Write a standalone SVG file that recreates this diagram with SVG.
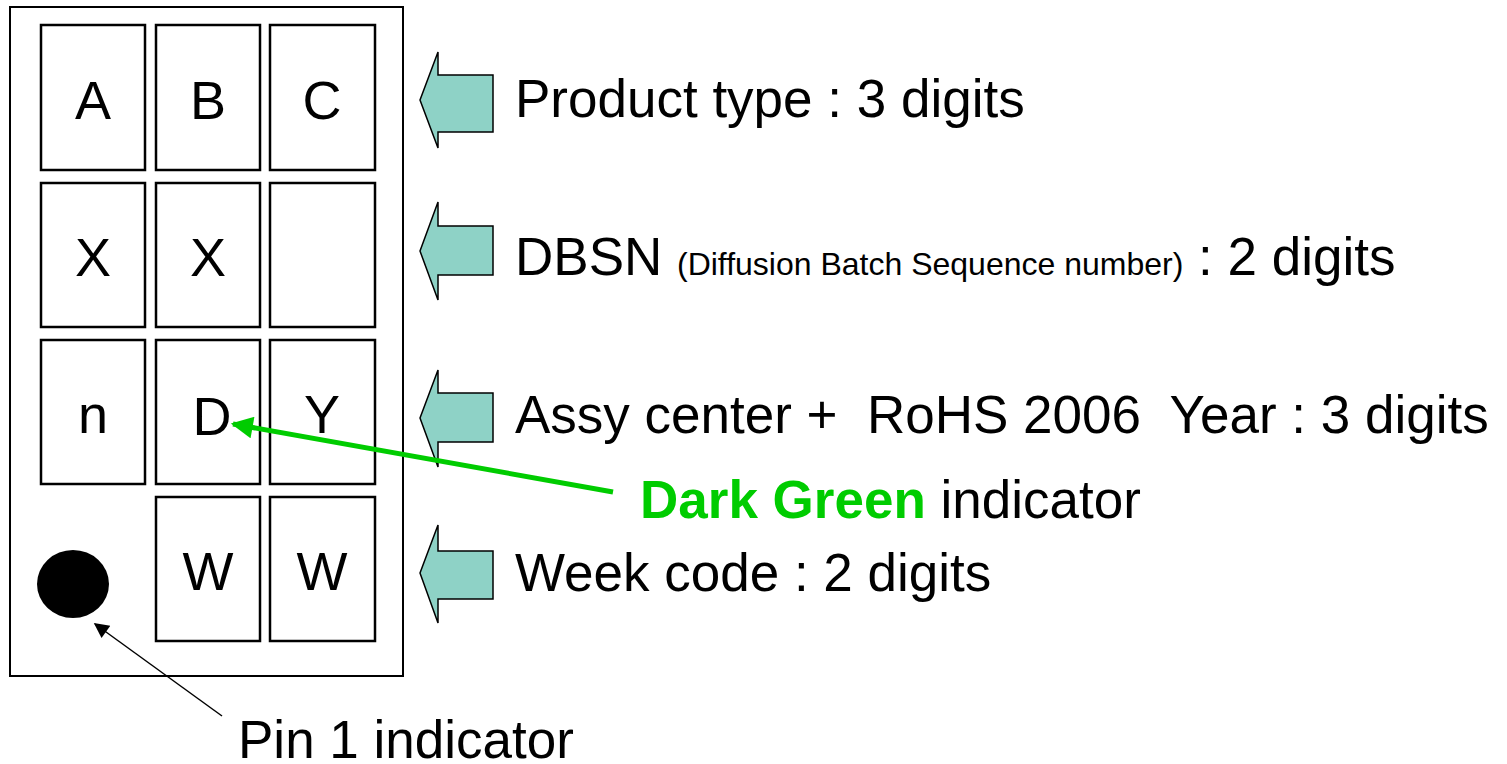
<svg xmlns="http://www.w3.org/2000/svg" width="1507" height="764" viewBox="0 0 1507 764">
<defs>
<style>
.cell{fill:#fff;stroke:#000;stroke-width:2.5}
.cl{font-family:"Liberation Sans",Arial,sans-serif;font-size:54px;fill:#000;text-anchor:middle}
.lbl{font-family:"Liberation Sans",Arial,sans-serif;font-size:53px;fill:#000}
.sm{font-size:32px}
.arr{fill:#8ed2c6;stroke:#000;stroke-width:1.5;stroke-linejoin:miter}
</style>
<marker id="gh" viewBox="0 0 10 10" refX="9" refY="5" markerWidth="4.6" markerHeight="4.4" orient="auto" markerUnits="strokeWidth">
<path d="M0,0 L10,5 L0,10 Z" fill="#00cc00"/>
</marker>
<marker id="bh" viewBox="0 0 10 10" refX="9" refY="5" markerWidth="13" markerHeight="10" orient="auto" markerUnits="strokeWidth">
<path d="M0,0 L10,5 L0,10 Z" fill="#000"/>
</marker>
</defs>
<rect width="1507" height="764" fill="#fff"/>
<g id="package">
<rect x="10" y="7" width="393" height="669" fill="#fff" stroke="#000" stroke-width="2"/>
</g>
<g id="cell-A"><rect class="cell" x="41" y="25" width="104" height="145"/><text class="cl" x="93" y="119">A</text></g>
<g id="cell-B"><rect class="cell" x="156" y="25" width="104" height="145"/><text class="cl" x="208" y="119">B</text></g>
<g id="cell-C"><rect class="cell" x="270" y="25" width="105" height="145"/><text class="cl" x="322" y="119">C</text></g>
<g id="cell-X1"><rect class="cell" x="41" y="183" width="104" height="144"/><text class="cl" x="93" y="276">X</text></g>
<g id="cell-X2"><rect class="cell" x="156" y="183" width="104" height="144"/><text class="cl" x="208" y="276">X</text></g>
<g id="cell-blank"><rect class="cell" x="270" y="183" width="105" height="144"/></g>
<g id="cell-n"><rect class="cell" x="41" y="340" width="104" height="144"/><text class="cl" x="93" y="433">n</text></g>
<g id="cell-D"><rect class="cell" x="156" y="340" width="104" height="144"/><text class="cl" x="212" y="435">D</text></g>
<g id="cell-Y"><rect class="cell" x="270" y="340" width="105" height="144"/><text class="cl" x="322" y="433">Y</text></g>
<g id="cell-W1"><rect class="cell" x="156" y="497" width="104" height="144"/><text class="cl" x="208" y="590">W</text></g>
<g id="cell-W2"><rect class="cell" x="270" y="497" width="105" height="144"/><text class="cl" x="322" y="590">W</text></g>
<g id="pin1-dot"><ellipse cx="73" cy="584" rx="36" ry="34" fill="#000"/></g>

<g id="arrow-product"><polygon class="arr" points="420,100 438,52 438,75 493,75 493,132 438,132 438,148"/></g>
<g id="arrow-dbsn"><polygon class="arr" points="420,251 438,202 438,226 493,226 493,275 438,275 438,300"/></g>
<g id="arrow-assy"><polygon class="arr" points="420,418 438,370 438,393 493,393 493,442 438,442 438,467"/></g>
<g id="arrow-week"><polygon class="arr" points="420,573 438,525 438,551 493,551 493,599 438,599 438,623"/></g>

<g id="label-product"><text class="lbl" x="515" y="117">Product type : 3 digits</text></g>
<g id="label-dbsn"><text class="lbl" x="515" y="275">DBSN <tspan class="sm">(Diffusion Batch Sequence number)</tspan> : 2 digits</text></g>
<g id="label-assy"><text class="lbl" x="515" y="433" xml:space="preserve">Assy center +  RoHS 2006  Year : 3 digits</text></g>
<g id="label-green"><text class="lbl" x="640" y="518"><tspan font-weight="bold" fill="#00cc00">Dark Green</tspan> indicator</text></g>
<g id="label-week"><text class="lbl" x="515" y="591">Week code : 2 digits</text></g>
<g id="label-pin1"><text class="lbl" x="238" y="758">Pin 1 indicator</text></g>

<g id="connectors">
<line x1="613" y1="492" x2="233" y2="424" stroke="#00cc00" stroke-width="5" marker-end="url(#gh)"/>
<line x1="222" y1="716" x2="95" y2="624" stroke="#000" stroke-width="1.5" marker-end="url(#bh)"/>
</g>
</svg>
